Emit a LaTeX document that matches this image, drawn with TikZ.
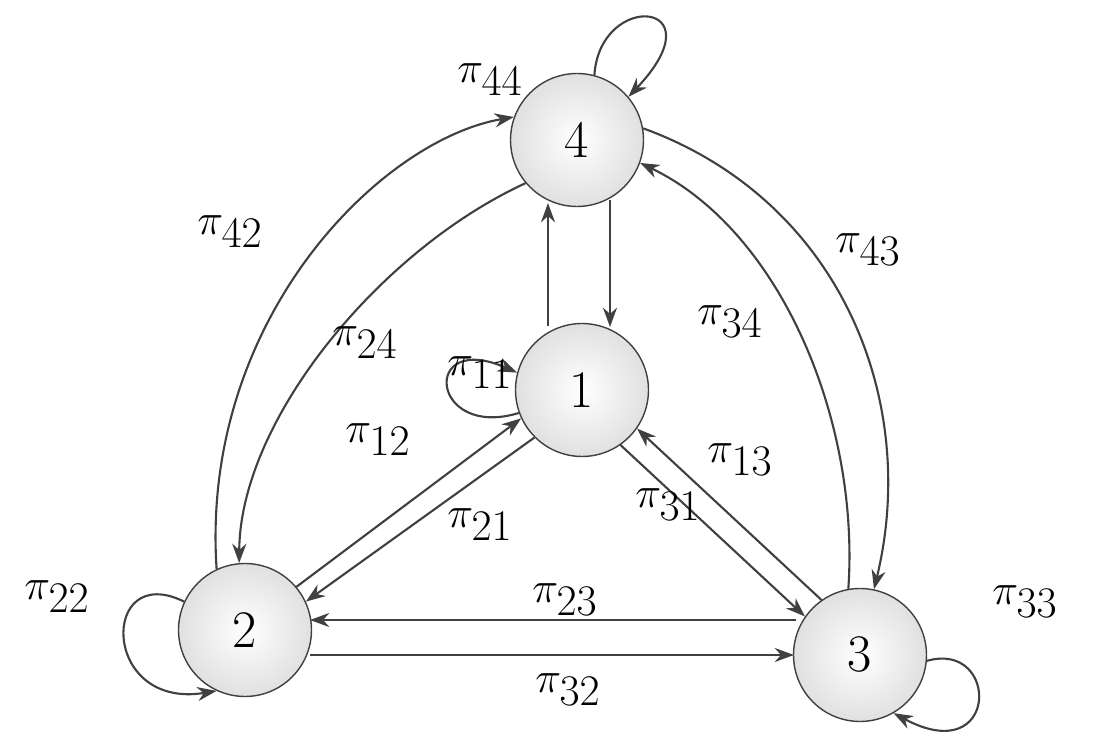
\documentclass[tikz,border=0pt]{standalone}
\usetikzlibrary{arrows.meta,calc}
\begin{document}
\begin{tikzpicture}[x=0.02cm,y=-0.02cm,
  st/.style={circle,draw=black!75,line width=0.8pt,minimum size=2.66cm,inner sep=0pt,
    inner color=white,outer color=black!12,font=\fontsize{30}{34}\selectfont},
  ed/.style={draw=black!75,line width=1.2pt,-{Stealth[length=11pt,width=8pt]}},
  lb/.style={font=\fontsize{36}{40}\selectfont,inner sep=0pt}]
\useasboundingbox (0,0) rectangle (1093,749);
\node[st] (n4) at (577,140) {4};
\node[st] (n1) at (582,390) {1};
\node[st] (n2) at (245,630) {2};
\node[st] (n3) at (860,655) {3};
% 1-4 vertical
\draw[ed] (n1.north -| 548,0) ++(0,3) -- (548,203);
\draw[ed] (610,200) -- (610,327);
% 1-2
\draw[ed] (n2.40) -- (n1.205);
\draw[ed] (n1.225) -- (n2.25);
% 1-3
\draw[ed] (n1.305) -- (n3.145);
\draw[ed] (n3.125) -- (n1.325);
% 2-3 horizontal
\draw[ed] (796,620) -- (310,620);
\draw[ed] (310,655) -- (794,655);
% 2-4 outer
\draw[ed] (n2.115) .. controls (200,320) and (380,140) .. (n4.160);
\draw[ed] (n4.220) .. controls (380,250) and (240,420) .. (n2.95);
% 3-4 outer
\draw[ed] (n4.10) .. controls (840,200) and (920,400) .. (n3.78);
\draw[ed] (n3.100) .. controls (860,420) and (780,230) .. (n4.-20);
% self loops
\draw[ed] (n4.75) .. controls (600,-10) and (720,0) .. (n4.40);
\draw[ed] (n1.200) .. controls (430,440) and (420,330) .. (n1.165);
\draw[ed] (n2.155) .. controls (100,560) and (100,710) .. (n2.245);
\draw[ed] (n3.-5) .. controls (1000,640) and (1000,770) .. (n3.-60);
% labels
\node[lb] (l44) at (490,80) {$\pi_{44}$};
\node[lb] (l42) at (230,232) {$\pi_{42}$};
\node[lb] (l24) at (365,343) {$\pi_{24}$};
\node[lb] (l11) at (480,373) {$\pi_{11}$};
\node[lb] (l12) at (378,440) {$\pi_{12}$};
\node[lb] (l21) at (480,525) {$\pi_{21}$};
\node[lb] (l31) at (668,505) {$\pi_{31}$};
\node[lb] (l13) at (740,460) {$\pi_{13}$};
\node[lb] (l23) at (565,600) {$\pi_{23}$};
\node[lb] (l32) at (568,690) {$\pi_{32}$};
\node[lb] (l33) at (1025,602) {$\pi_{33}$};
\node[lb] (l22) at (57,597) {$\pi_{22}$};
\node[lb] (l43) at (868,250) {$\pi_{43}$};
\node[lb] (l34) at (730,322) {$\pi_{34}$};
\end{tikzpicture}
\end{document}
